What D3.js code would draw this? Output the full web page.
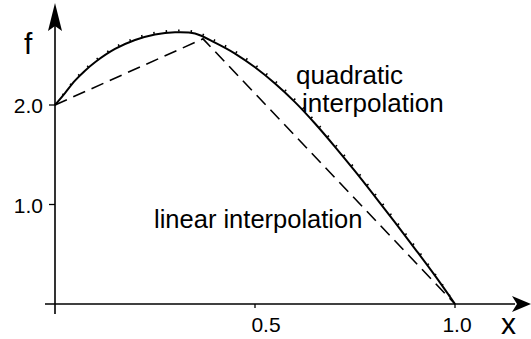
<!DOCTYPE html>
<html>
<head>
<meta charset="utf-8">
<script src="https://cdn.jsdelivr.net/npm/d3@7"></script>
<style>
  html, body { margin: 0; padding: 0; background: #fff; }
  svg { display: block; }
  text { font-family: "Liberation Sans", Arial, sans-serif; fill: #000; }
</style>
</head>
<body>
<svg id="chart" width="531" height="339"></svg>
<script>
// Sample abscissae shared by the smooth curves
const xSamples = [0, 0.025, 0.05, 0.075, 0.1, 0.15, 0.2, 0.25, 0.3, 0.35, 0.4, 0.45,
                  0.5, 0.55, 0.6, 0.65, 0.7, 0.75, 0.8, 0.85, 0.9, 0.95, 1.0];
// Quadratic interpolation (solid)
const quadValues = [2.0, 2.12, 2.245, 2.345, 2.43, 2.563, 2.653, 2.709, 2.731, 2.719, 2.627, 2.517,
                    2.379, 2.216, 2.029, 1.814, 1.58, 1.335, 1.08, 0.82, 0.555, 0.285, 0.0];
// Exact function (dotted)
const exactValues = [2.0, 2.13, 2.259, 2.361, 2.448, 2.581, 2.671, 2.726, 2.747, 2.736, 2.647, 2.54,
                     2.402, 2.24, 2.053, 1.838, 1.605, 1.36, 1.105, 0.845, 0.578, 0.302, 0.0];
// Linear interpolation nodes (dashed)
const linearX = [0, 0.37, 1.0];
const linearValues = [2.0, 2.665, 0.0];
// Axis tick labels
const xTicks = [0.5, 1.0];
const xTickLabels = ["0.5", "1.0"];
const yTicks = [1.0, 2.0];
const yTickLabels = ["1.0", "2.0"];

const svg = d3.select("#chart");
const x = d3.scaleLinear().domain([0, 1]).range([55, 455]);
const y = d3.scaleLinear().domain([0, 2]).range([304, 105]);

const axisStroke = 1.6;

// Axes lines
svg.append("line").attr("x1", 45).attr("x2", 515).attr("y1", y(0)).attr("y2", y(0))
  .attr("stroke", "#000").attr("stroke-width", axisStroke);
svg.append("line").attr("x1", x(0)).attr("x2", x(0)).attr("y1", 314).attr("y2", 20)
  .attr("stroke", "#000").attr("stroke-width", axisStroke);

// Arrowheads
const ax0 = x(0), ay0 = y(0);
svg.append("path")
  .attr("d", `M${ax0},3 L${ax0 + 7},31 L${ax0},26 L${ax0 - 7},31 Z`)
  .attr("fill", "#000");
svg.append("path")
  .attr("d", `M531,${ay0} L512,${ay0 - 8} L517,${ay0} L512,${ay0 + 8} Z`)
  .attr("fill", "#000");

// Ticks
svg.selectAll(".xtick").data(xTicks).join("line")
  .attr("x1", d => x(d)).attr("x2", d => x(d))
  .attr("y1", y(0)).attr("y2", y(0) + 4)
  .attr("stroke", "#000").attr("stroke-width", 1.3);
svg.selectAll(".ytick").data(yTicks).join("line")
  .attr("x1", x(0) - 6).attr("x2", x(0))
  .attr("y1", d => y(d)).attr("y2", d => y(d))
  .attr("stroke", "#000").attr("stroke-width", 1.3);

// Tick labels
const xLabelOffset = [11, 2];
svg.selectAll(".xlab").data(xTicks).join("text")
  .attr("x", (d, i) => x(d) + xLabelOffset[i])
  .attr("y", 332)
  .attr("text-anchor", "middle")
  .attr("font-size", 21)
  .text((d, i) => xTickLabels[i]);
svg.selectAll(".ylab").data(yTicks).join("text")
  .attr("x", 43)
  .attr("y", d => y(d) + 8)
  .attr("text-anchor", "end")
  .attr("font-size", 21)
  .text((d, i) => yTickLabels[i]);

// Axis names
svg.append("text").attr("x", 24).attr("y", 54).attr("font-size", 30).text("f");
svg.append("text").attr("x", 501).attr("y", 334).attr("font-size", 30).text("x");

// Curves
const smooth = d3.line().x(d => x(d[0])).y(d => y(d[1])).curve(d3.curveCatmullRom);
const straight = d3.line().x(d => x(d[0])).y(d => y(d[1]));

svg.append("path")
  .attr("d", smooth(d3.zip(xSamples, exactValues)))
  .attr("fill", "none").attr("stroke", "#000").attr("stroke-width", 2)
  .attr("stroke-dasharray", "1.5,11");

svg.append("path")
  .attr("d", smooth(d3.zip(xSamples, quadValues)))
  .attr("fill", "none").attr("stroke", "#000").attr("stroke-width", 2);

svg.append("path")
  .attr("d", straight(d3.zip(linearX, linearValues)))
  .attr("fill", "none").attr("stroke", "#000").attr("stroke-width", 1.6)
  .attr("stroke-dasharray", "13,7");

// Annotations
svg.append("text").attr("x", 296).attr("y", 84).attr("font-size", 26).text("quadratic");
svg.append("text").attr("x", 302).attr("y", 112).attr("font-size", 26).text("interpolation");
svg.append("text").attr("x", 154).attr("y", 228).attr("font-size", 25.5).text("linear interpolation");
</script>
</body>
</html>
